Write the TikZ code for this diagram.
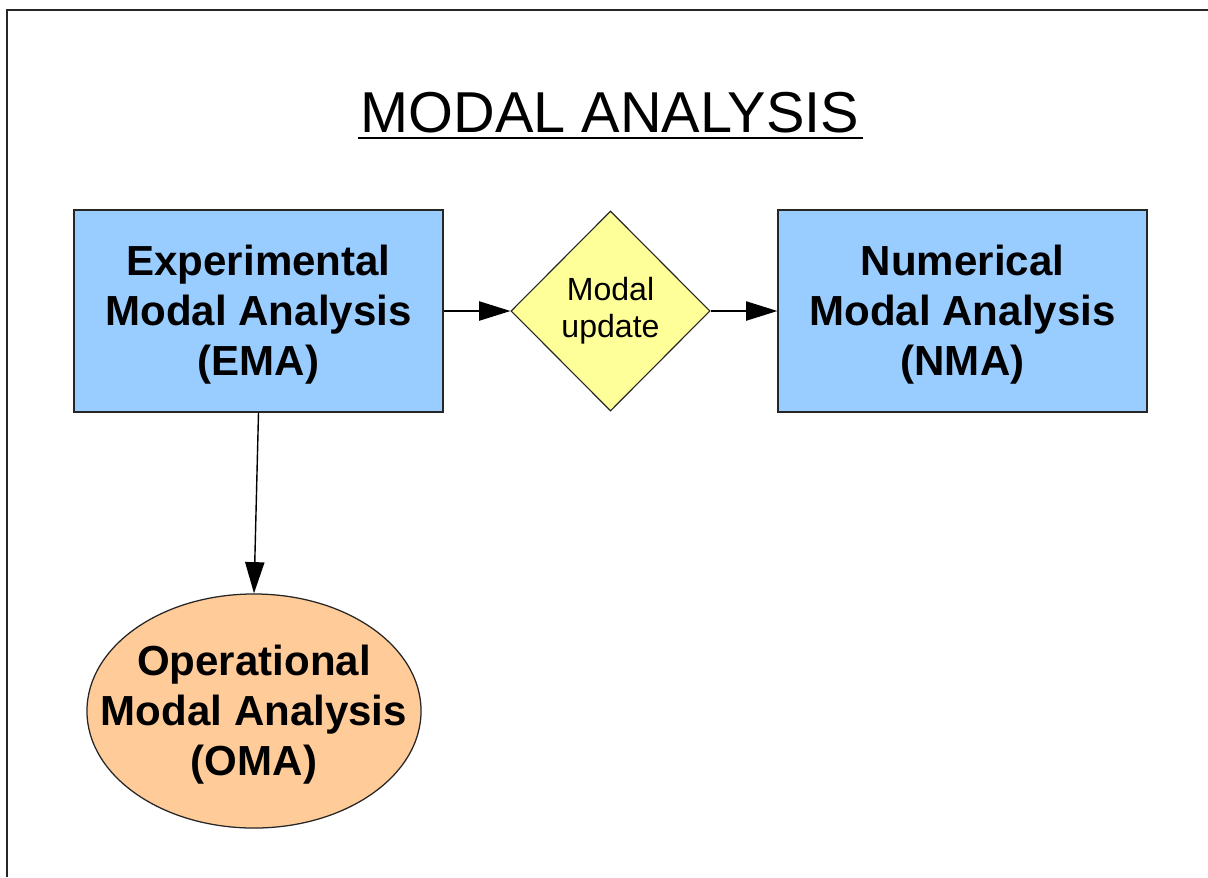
\documentclass[tikz,border=0pt]{standalone}
\usepackage{fontspec}
\setmainfont{Liberation Sans}
\usetikzlibrary{positioning, arrows.meta, shapes.geometric}
\definecolor{boxBlue}{HTML}{99CCFF}
\definecolor{updYellow}{HTML}{FFFF99}
\definecolor{omaPeach}{HTML}{FFCC99}

\begin{document}
\begin{tikzpicture}[x=0.025cm, y=-0.025cm,
  block/.style={draw=black!85, line width=0.9pt, fill=boxBlue, minimum width=9.225cm,
                minimum height=5.05cm, inner sep=0, align=center, text depth=0.05cm,
                font=\fontsize{29.9}{35.6}\selectfont\bfseries},
  decision/.style={diamond, draw=black!85, line width=0.8pt, fill=updYellow,
                   minimum width=4.975cm, minimum height=5cm, inner sep=0,
                   align=center, font=\fontsize{22.8}{26.3}\selectfont},
  oval/.style={ellipse, draw=black!85, line width=0.9pt, fill=omaPeach,
               minimum width=8.35cm, minimum height=5.85cm, inner xsep=-1cm,
               inner ysep=0, align=center, text depth=0.05cm,
               font=\fontsize{29.9}{35.6}\selectfont\bfseries},
  link/.style={-{Triangle[length=0.78cm, width=0.48cm]}, line width=1pt},
]
  \useasboundingbox (0,0) rectangle (1208,877);
  % frame
  \draw[line width=1.4pt, black!85] (1208,10) -- (7,10) -- (7,877);

  \node[anchor=base, inner sep=0, font=\fontsize{41}{48}\selectfont] (title) at (610,132) {MODAL ANALYSIS};
  \draw[line width=1.6pt] ([shift={(-2,6)}]title.base west) -- ([shift={(3,6)}]title.base east);

  \node[block] (ema) at (258.5,311) {Experimental\\Modal Analysis\\(EMA)};
  \node[decision] (update) at (610.5,311) {Modal\\update};
  \node[block] (nma) at (962.5,311) {Numerical\\Modal Analysis\\(NMA)};
  \node[oval] (oma) at (254,711) {Operational\\Modal Analysis\\(OMA)};

  \draw[link] (ema) -- (update);
  \draw[link] (update) -- (nma);
  \draw[link] (ema.south) -- (oma.north);
\end{tikzpicture}
\end{document}
